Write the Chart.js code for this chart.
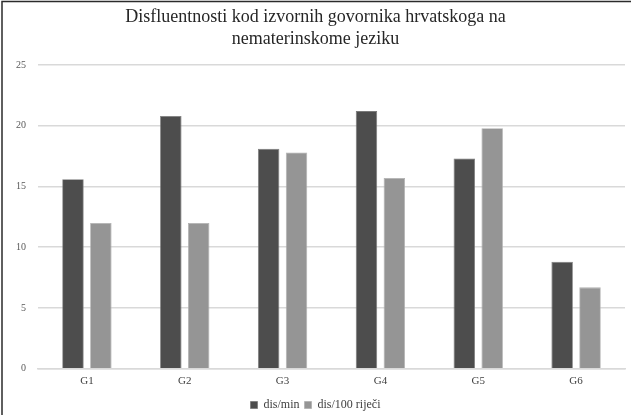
<!DOCTYPE html>
<html>
<head>
<meta charset="utf-8">
<script src="https://cdn.jsdelivr.net/npm/chart.js@4.4.1/dist/chart.umd.min.js"></script>
<style>
  html, body { margin: 0; padding: 0; background: #fff; }
  #wrap { width: 631px; height: 415px; position: relative; }
</style>
</head>
<body>
<div id="wrap"><canvas id="c" width="631" height="415"></canvas></div>
<script>
// Groups and their disfluency rates
const categories = ['G1', 'G2', 'G3', 'G4', 'G5', 'G6'];
const disPerMin = [15.6, 20.8, 18.1, 21.2, 17.3, 8.8];
const disPer100Words = [12.0, 12.0, 17.8, 15.7, 19.8, 6.7];
const seriesNames = ['dis/min', 'dis/100 riječi'];
const yTicks = [0, 5, 10, 15, 20, 25];
const titleLines = ['Disfluentnosti kod izvornih govornika hrvatskoga na', 'nematerinskome jeziku'];

const serif = "'Liberation Serif', 'Times New Roman', serif";

// Thin frame along the top and left edges of the figure
const framePlugin = {
  id: 'frame',
  beforeDraw(chart) {
    const ctx = chart.ctx;
    ctx.save();
    ctx.fillStyle = '#ffffff';
    ctx.fillRect(0, 0, chart.width, chart.height);
    ctx.restore();
  },
  afterDraw(chart) {
    const ctx = chart.ctx;
    ctx.save();
    ctx.strokeStyle = '#2b2b2b';
    ctx.lineWidth = 1.5;
    ctx.beginPath();
    ctx.moveTo(2, chart.height);
    ctx.lineTo(2, 1.5);
    ctx.lineTo(chart.width, 1.5);
    ctx.stroke();
    ctx.restore();
  }
};

new Chart(document.getElementById('c'), {
  type: 'bar',
  data: {
    labels: categories,
    datasets: [
      {
        label: seriesNames[0],
        data: disPerMin,
        backgroundColor: '#4d4d4d',
        borderColor: '#7a7a7a',
        borderWidth: 0.8,
        categoryPercentage: 0.57,
        barPercentage: 0.77
      },
      {
        label: seriesNames[1],
        data: disPer100Words,
        backgroundColor: '#959595',
        borderColor: '#b0b0b0',
        borderWidth: 0.8,
        categoryPercentage: 0.57,
        barPercentage: 0.77
      }
    ]
  },
  options: {
    responsive: false,
    animation: false,
    devicePixelRatio: 1,
    layout: { padding: { left: 6, right: 6, top: 4, bottom: -6 } },
    plugins: {
      title: {
        display: true,
        text: titleLines,
        color: '#262626',
        font: { family: serif, size: 18, weight: 'normal', lineHeight: 1.22 },
        padding: { top: 2, bottom: 15 }
      },
      legend: {
        position: 'bottom',
        labels: {
          color: '#404040',
          font: { family: serif, size: 12 },
          boxWidth: 7,
          boxHeight: 7,
          padding: 5
        }
      },
      tooltip: { enabled: false }
    },
    scales: {
      x: {
        grid: { display: false, drawTicks: false },
        border: { display: true, color: '#d9d9d9', width: 1.5 },
        ticks: { color: '#404040', font: { family: serif, size: 11 }, padding: 6 }
      },
      y: {
        min: 0,
        max: 25,
        afterBuildTicks(scale) { scale.ticks = yTicks.map(v => ({ value: v })); },
        afterFit(scale) { scale.width = 32; },
        grid: { color: '#d9d9d9', lineWidth: 1.5, drawTicks: false },
        border: { display: false },
        ticks: { color: '#595959', font: { family: serif, size: 10 }, padding: 12 }
      }
    }
  },
  plugins: [framePlugin]
});
</script>
</body>
</html>
